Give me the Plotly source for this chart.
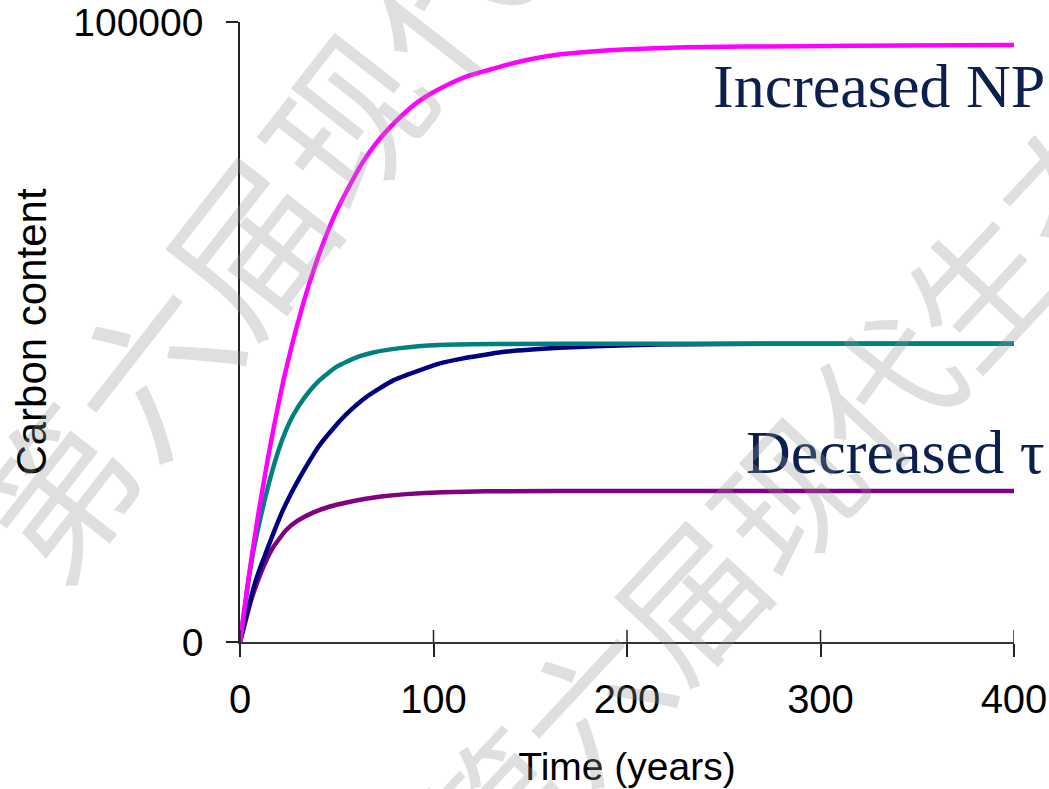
import plotly.graph_objects as go

# ---- data ----
t_np = [0, 4.3, 6.9, 9.5, 12.9, 14.6, 17.5, 20.7, 22.4, 26.7, 29.3, 31.8, 36.2, 42.2, 49.1, 59.4, 63.7, 70, 77.5, 84, 91.3, 99, 106.8, 118, 129, 136.7, 150, 164.9, 189, 230, 290, 343, 400]
c_np = [0, 10050, 15500, 20700, 26900, 29900, 34700, 39600, 42100, 47700, 50800, 53600, 58200, 63650, 68950, 75200, 77500, 80300, 83000, 85000, 86950, 88500, 89800, 91300, 92300, 93000, 94000, 94750, 95400, 95930, 96100, 96200, 96300]

t_base = [0, 2.1, 4.3, 7.2, 11.2, 15.5, 20, 23.3, 27.6, 33.6, 41.3, 50, 55.1, 62, 68.9, 82.7, 103, 130, 200, 300, 400]
c_base = [0, 4700, 9700, 15100, 20850, 26250, 31000, 33800, 36650, 39530, 42280, 44400, 45200, 46100, 46700, 47400, 47900, 48050, 48100, 48100, 48100]

t_slow = [0, 3.4, 7.75, 11.2, 14.6, 18.1, 21.5, 25.8, 31, 35.3, 41, 48.2, 55, 65.5, 79.2, 103.4, 115.4, 129, 136.7, 165, 183.7, 216.5, 250, 300, 400]
c_slow = [0, 4400, 9500, 12600, 15400, 18200, 20800, 23600, 26600, 28900, 31700, 34450, 36750, 39550, 42200, 44940, 45750, 46450, 46800, 47450, 47720, 47980, 48080, 48100, 48100]

t_tau = [0, 3.8, 6, 9.5, 12.9, 17.2, 24, 30, 38, 46.5, 55.1, 65, 74, 86, 105, 127, 200, 300, 400]
c_tau = [0, 4500, 7000, 10100, 12700, 15300, 18100, 19600, 20900, 21850, 22500, 23100, 23500, 23850, 24150, 24300, 24350, 24350, 24350]

x_ticks = [0, 100, 200, 300, 400]
x_tick_text = ["0", "100", "200", "300", "400"]
y_ticks = [0, 100000]
y_tick_text = ["0", "100000"]

label_np = "Increased NP"
label_tau = "Decreased τ"
watermark = "第六届现代生态学讲习班"

# ---- figure ----
W, H = 1049, 789
ML, MR, MT, MB = 240, 35, 22, 147
PW, PH = W - ML - MR, H - MT - MB


def px(xp):
    return (xp - ML) / PW


def py(yp):
    return (H - MB - yp) / PH


fig = go.Figure()
series = [
    (t_tau, c_tau, "#800080"),
    (t_slow, c_slow, "#000080"),
    (t_base, c_base, "#008080"),
    (t_np, c_np, "#FF00FF"),
]
for tx, cy, col in series:
    fig.add_trace(go.Scatter(x=tx, y=cy, mode="lines",
                             line=dict(color=col, width=4.5, shape="spline", smoothing=0.5),
                             showlegend=False, hoverinfo="skip", cliponaxis=False))

fig.update_layout(
    width=W, height=H,
    margin=dict(l=ML, r=MR, t=MT, b=MB, pad=0, autoexpand=False),
    paper_bgcolor="white", plot_bgcolor="white",
    font=dict(family="Liberation Sans, Arial, sans-serif", color="black"),
)
fig.update_xaxes(
    range=[0, 400], tickvals=x_ticks, ticktext=x_tick_text, automargin=False,
    showgrid=False, zeroline=False, showline=True, linecolor="#333333", linewidth=2,
    ticks="outside", ticklen=13, tickwidth=1.5, tickcolor="#222222",
    tickfont=dict(size=40), ticklabelstandoff=8,
    title=dict(text="Time (years)", font=dict(size=39), standoff=33),
)
fig.update_yaxes(
    range=[0, 100000], tickvals=y_ticks, ticktext=y_tick_text, automargin=False,
    showgrid=False, zeroline=False, showline=True, linecolor="#222222", linewidth=1.5,
    ticks="outside", ticklen=12, tickwidth=1.5, tickcolor="#222222",
    tickfont=dict(size=39), ticklabelstandoff=15,
    title=dict(text="Carbon content", font=dict(size=42), standoff=14),
)

# inner half of the crossing x ticks
for tv in x_ticks:
    fig.add_shape(type="line", xref="x", yref="paper", x0=tv, x1=tv, y0=0, y1=12 / PH,
                  line=dict(color="#222222", width=1.5))

fig.add_annotation(text=label_np, xref="paper", yref="paper", x=px(1047), y=py(86),
                   xanchor="right", yanchor="middle", showarrow=False,
                   font=dict(family="Liberation Serif, Times New Roman, serif", size=62, color="#0c1f4e"))
fig.add_annotation(text=label_tau, xref="paper", yref="paper", x=px(1047), y=py(452),
                   xanchor="right", yanchor="middle", showarrow=False,
                   font=dict(family="Liberation Serif, Times New Roman, serif", size=62, color="#0c1f4e"))

# watermark
fig.add_annotation(text=watermark, xref="paper", yref="paper", x=px(537), y=py(-134),
                   xanchor="center", yanchor="middle", showarrow=False, textangle=-52,
                   font=dict(family="Noto Sans CJK SC", size=158, color="rgba(150,150,150,0.3)"))
fig.add_annotation(text=watermark, xref="paper", yref="paper", x=px(976), y=py(283),
                   xanchor="center", yanchor="middle", showarrow=False, textangle=-47,
                   font=dict(family="Noto Sans CJK SC", size=142, color="rgba(150,150,150,0.3)"))

fig.write_html("out.html")
